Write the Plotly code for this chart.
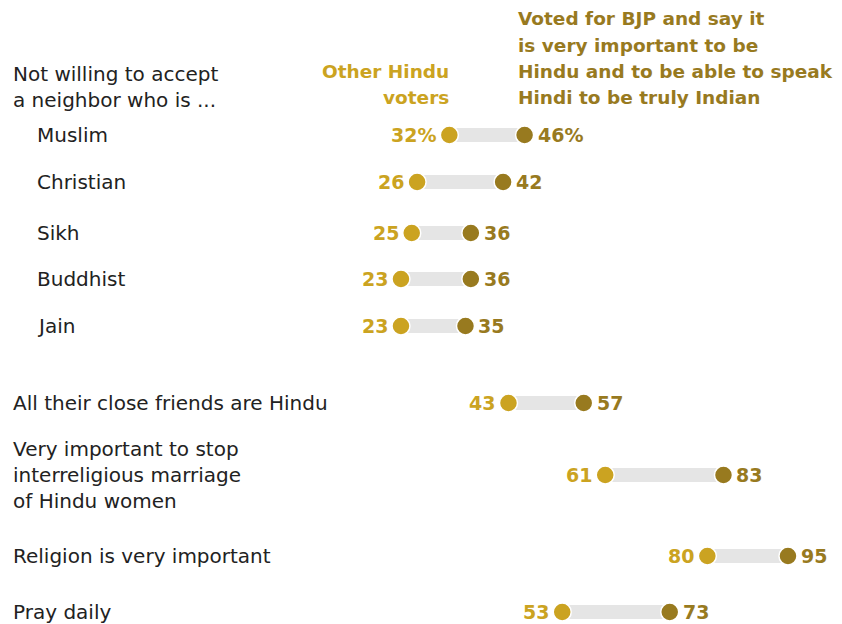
import plotly.graph_objects as go

# Data
categories = ["Muslim", "Christian", "Sikh", "Buddhist", "Jain",
              "All their close friends are Hindu",
              "Very important to stop<br>interreligious marriage<br>of Hindu women",
              "Religion is very important", "Pray daily"]
other_hindu = [32, 26, 25, 23, 23, 43, 61, 80, 53]
bjp_voters = [46, 42, 36, 36, 35, 57, 83, 95, 73]
value_labels_other = ["32%", "26", "25", "23", "23", "43", "61", "80", "53"]
value_labels_bjp = ["46%", "42", "36", "36", "35", "57", "83", "95", "73"]
header_other = ["Other Hindu", "voters"]
header_bjp = ["Voted for BJP and say it", "is very important to be",
              "Hindu and to be able to speak", "Hindi to be truly Indian"]

# Layout (pixel positions of rows; y axis maps to page pixels)
row_y = [135, 182, 233, 279, 326, 403, 475, 556, 612]
label_indent = [37, 37, 37, 37, 37, 13, 13, 13, 13]
header_bjp_y = [18, 45, 71, 97]
header_other_y = [71, 97]

W, H = 842, 624
LIGHT = "#CBA321"
DARK = "#987A1F"
GRAY = "#E5E5E5"
FONT = "DejaVu Sans, Arial, sans-serif"

fig = go.Figure()

bx, by = [], []
for a, b, y in zip(other_hindu, bjp_voters, row_y):
    bx += [a, b, None]
    by += [y, y, None]
fig.add_trace(go.Scatter(x=bx, y=by, mode="lines",
                         line=dict(color=GRAY, width=14),
                         hoverinfo="skip", showlegend=False))
fig.add_trace(go.Scatter(x=other_hindu, y=row_y, mode="markers",
                         marker=dict(color=LIGHT, size=18, line=dict(color="white", width=1.5)),
                         showlegend=False))
fig.add_trace(go.Scatter(x=bjp_voters, y=row_y, mode="markers",
                         marker=dict(color=DARK, size=18, line=dict(color="white", width=1.5)),
                         showlegend=False))

ann = []
for cat, y, ind in zip(categories, row_y, label_indent):
    ann.append(dict(text=cat, x=(ind - 2) / W, xref="paper", y=y, yref="y",
                    xanchor="left", yanchor="middle", align="left", showarrow=False,
                    font=dict(family=FONT, size=20, color="#222222")))
for v, t, y in zip(other_hindu, value_labels_other, row_y):
    ann.append(dict(text="<b>%s</b>" % t, x=v, y=y, xref="x", yref="y",
                    xanchor="right", yanchor="middle", xshift=-11, showarrow=False,
                    font=dict(family=FONT, size=19, color=LIGHT)))
for v, t, y in zip(bjp_voters, value_labels_bjp, row_y):
    ann.append(dict(text="<b>%s</b>" % t, x=v, y=y, xref="x", yref="y",
                    xanchor="left", yanchor="middle", xshift=11, showarrow=False,
                    font=dict(family=FONT, size=19, color=DARK)))

ann.append(dict(text="Not willing to accept<br>a neighbor who is ...", x=11 / W, xref="paper",
                y=87, yref="y", xanchor="left", yanchor="middle", align="left", showarrow=False,
                font=dict(family=FONT, size=20, color="#222222")))
for t, y in zip(header_other, header_other_y):
    ann.append(dict(text="<b>%s</b>" % t, x=451 / W, xref="paper",
                    y=y, yref="y", xanchor="right", yanchor="middle", align="right", showarrow=False,
                    font=dict(family=FONT, size=18.5, color=LIGHT)))
for t, y in zip(header_bjp, header_bjp_y):
    ann.append(dict(text="<b>%s</b>" % t, x=516 / W, xref="paper",
                    y=y, yref="y", xanchor="left", yanchor="middle", align="left", showarrow=False,
                    font=dict(family=FONT, size=18.5, color=DARK)))

fig.update_layout(
    width=W, height=H, margin=dict(l=0, r=0, t=0, b=0),
    paper_bgcolor="white", plot_bgcolor="white",
    xaxis=dict(range=[-51.6, 105.05], visible=False, fixedrange=True),
    yaxis=dict(range=[H, 0], visible=False, fixedrange=True),
    annotations=ann, showlegend=False,
)

fig.write_html("out.html", config={"displayModeBar": False},
               post_script="document.body.style.margin='0';")
